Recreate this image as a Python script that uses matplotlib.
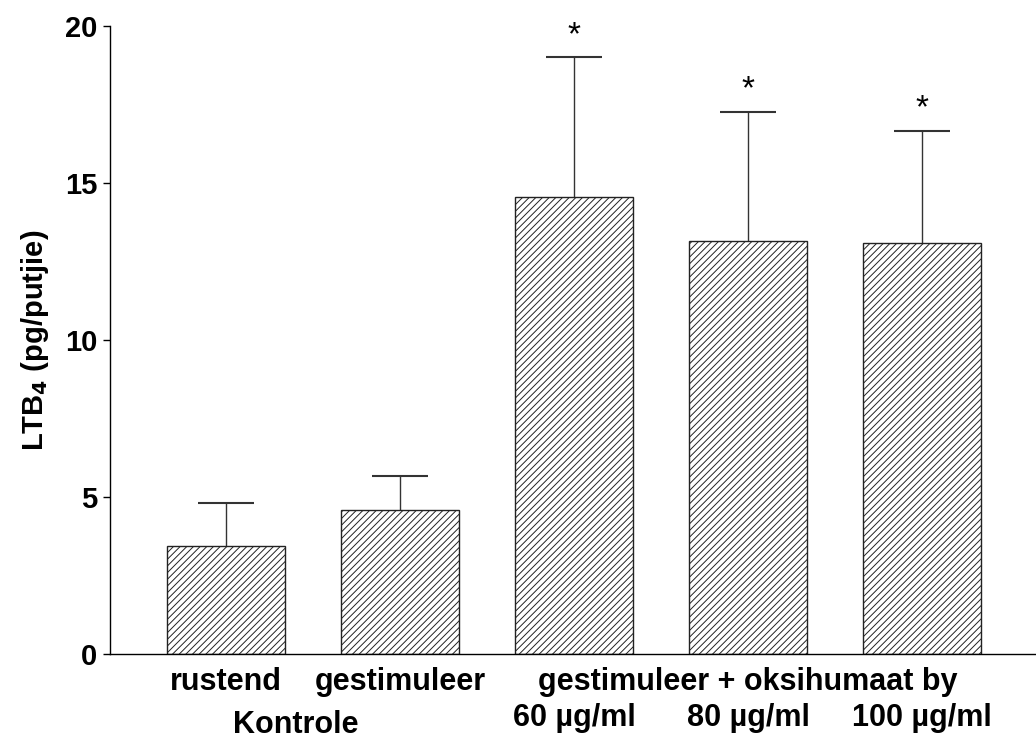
import matplotlib.pyplot as plt
from matplotlib.transforms import blended_transform_factory

plt.rcParams['font.family'] = ['Liberation Sans', 'DejaVu Sans']
plt.rcParams['hatch.linewidth'] = 0.7

groups = ['rustend', 'gestimuleer', '60 µg/ml', '80 µg/ml', '100 µg/ml']
means = [3.44, 4.57, 14.55, 13.15, 13.08]
errs = [1.37, 1.10, 4.46, 4.12, 3.58]
stars = ['', '', '*', '*', '*']
yticks = [0, 5, 10, 15, 20]

fig = plt.figure(figsize=(10.36, 7.42), dpi=100)
ax = fig.add_axes([0.106, 0.1186, 0.894, 0.8464])
x = list(range(len(groups)))
tops = [m + e for m, e in zip(means, errs)]

ax.bar(x, means, width=0.68, color='white', edgecolor='#222222', linewidth=1.0,
       hatch='/////', zorder=2)
# only the upper half of the error bar, as in the original
ax.vlines(x, means, tops, color='#333333', linewidth=1.0, zorder=1)
ax.hlines(tops, [xi - 0.16 for xi in x], [xi + 0.16 for xi in x],
          color='#333333', linewidth=1.5, zorder=1)
for xi, t, s in zip(x, tops, stars):
    if s:
        ax.text(xi, t + 0.2, s, ha='center', va='bottom', fontsize=24)

ax.set_xlim(-0.667, 4.655)
ax.set_ylim(0, 20)
ax.set_yticks(yticks)
ax.set_yticklabels([str(t) for t in yticks], fontsize=21, fontweight='bold')
ax.tick_params(axis='y', length=5, width=1, pad=4)
ax.set_xticks([])
for sp in ['top', 'right']:
    ax.spines[sp].set_visible(False)
ax.spines['left'].set_linewidth(1.0)
ax.spines['bottom'].set_linewidth(1.0)
ax.set_ylabel('LTB$_\\mathbf{4}$ (pg/putjie)', fontsize=21, fontweight='bold', labelpad=10)

tr = blended_transform_factory(ax.transData, ax.transAxes)
lab = dict(ha='center', va='center', fontsize=22, fontweight='bold', transform=tr)
ax.text(0, -0.045, groups[0], **lab)
ax.text(1, -0.045, groups[1], **lab)
ax.text(3, -0.045, 'gestimuleer + oksihumaat by', **lab)
ax.text(0.4, -0.113, 'Kontrole', **lab)
for xi in x[2:]:
    ax.text(xi, -0.102, groups[xi], **lab)

fig.savefig('out.png', dpi=100)
